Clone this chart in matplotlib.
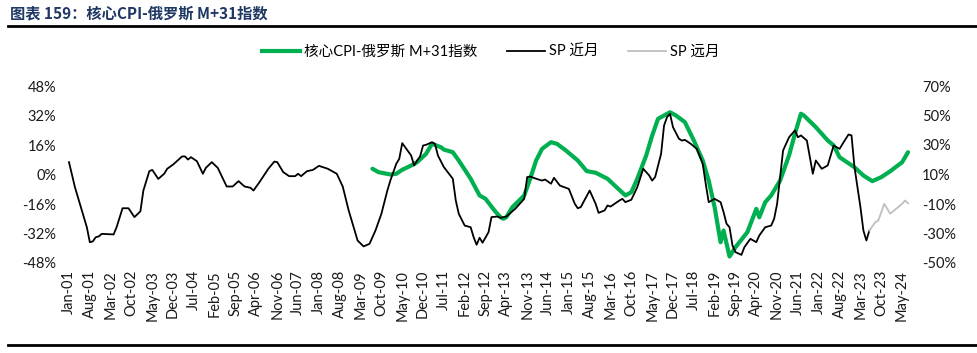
import matplotlib
matplotlib.use("Agg")
import matplotlib.pyplot as plt
from matplotlib.lines import Line2D

plt.rcParams['font.family'] = ['Lato', 'Noto Sans CJK SC', 'DejaVu Sans']

# ---------------- data ----------------
near_dates = ["2001-01","2001-03","2001-07","2001-08","2001-09","2001-10","2001-11","2001-12",
    "2002-04","2002-05","2002-07","2002-09","2002-11","2003-01","2003-02","2003-04","2003-05",
    "2003-07","2003-09","2003-10","2003-12","2004-03","2004-04","2004-05","2004-06","2004-08",
    "2004-10","2004-11","2005-01","2005-03","2005-06","2005-08","2005-10","2005-12","2006-02",
    "2006-03","2006-05","2006-08","2006-10","2006-11","2007-01","2007-03","2007-05","2007-06",
    "2007-07","2007-09","2007-11","2008-01","2008-04","2008-07","2008-09","2008-11","2009-02",
    "2009-04","2009-06","2009-08","2009-10","2009-12","2010-01","2010-03","2010-04","2010-05",
    "2010-06","2010-08","2010-09","2010-10","2010-11","2010-12","2011-01","2011-03","2011-04",
    "2011-05","2011-07","2011-10","2011-11","2011-12","2012-02","2012-04","2012-05","2012-06",
    "2012-07","2012-08","2012-10","2012-11","2013-01","2013-02","2013-04","2013-07","2013-10",
    "2013-11","2013-12","2014-02","2014-04","2014-05","2014-07","2014-08","2014-10","2015-01",
    "2015-03","2015-04","2015-05","2015-08","2015-10","2015-11","2016-01","2016-02","2016-03",
    "2016-06","2016-07","2016-08","2016-10","2016-12","2017-02","2017-04","2017-05","2017-06",
    "2017-08","2017-09","2017-10","2017-11","2017-12","2018-02","2018-03","2018-04","2018-06",
    "2018-08","2018-10","2018-11","2018-12","2019-02","2019-04","2019-05","2019-06","2019-07",
    "2019-08","2019-09","2019-11","2019-12","2020-02","2020-04","2020-05","2020-07","2020-09",
    "2020-10","2020-11","2020-12","2021-01","2021-03","2021-05","2021-06","2021-07","2021-09",
    "2021-10","2021-11","2021-12","2022-02","2022-04","2022-05","2022-06","2022-08","2022-09",
    "2022-11","2022-12","2023-01","2023-03","2023-04","2023-05","2023-06"]
near_values = [6.7,-6.9,-28.6,-36.7,-36.3,-34.0,-33.6,-32.2,
    -32.5,-28.6,-18.3,-18.3,-23.1,-20.0,-8.7,1.8,2.5,
    -2.4,0.4,3.1,5.4,9.8,9.8,8.1,9.4,7.2,
    0.4,3.6,6.7,3.6,-6.5,-6.5,-3.6,-6.5,-7.2,
    -8.7,-4.2,3.1,7.0,6.7,1.3,-0.9,-0.9,0.4,
    -0.9,1.8,2.5,4.7,3.1,0.4,-6.5,-19.5,-35.8,
    -39.0,-37.6,-30.4,-21.3,-8.7,-3.3,5.8,8.5,17.0,
    14.8,10.3,4.9,7.6,9.8,15.7,16.1,17.5,16.6,
    10.3,4.0,-2.3,-14.1,-21.3,-27.7,-28.6,-34.0,-38.1,
    -34.3,-37.0,-31.3,-23.1,-22.8,-23.5,-22.8,-18.6,-13.2,
    -1.4,-1.1,-2.3,-3.3,-2.7,-5.0,-1.8,-6.0,-7.8,
    -15.9,-18.3,-17.7,-8.7,-15.9,-20.8,-19.5,-16.8,-17.4,
    -14.1,-13.2,-15.0,-13.7,-6.9,3.1,-0.5,-3.3,-1.4,
    11.2,26.6,31.1,32.9,25.7,19.4,18.4,18.8,16.6,
    13.9,5.8,-5.0,-15.0,-13.2,-15.0,-20.4,-26.7,-28.6,
    -38.5,-42.1,-43.6,-39.4,-34.9,-36.7,-33.1,-28.6,-27.7,
    -24.0,-15.9,-1.4,13.0,20.2,23.9,20.2,21.2,18.4,
    9.4,0.4,7.6,3.1,4.9,10.3,15.7,13.9,16.6,
    21.7,21.2,4.0,-17.7,-30.4,-35.8,-30.4]

far_dates = ["2023-06","2023-08","2023-09","2023-11","2024-01","2024-03","2024-05","2024-06","2024-07"]
far_values = [-30.4,-25.9,-25.0,-15.9,-21.3,-18.6,-15.9,-14.1,-15.6]

cpi_dates = ["2009-07","2009-09","2010-01","2010-03","2010-05","2010-08","2010-10","2011-01",
    "2011-03","2011-06","2011-07","2011-10","2011-12","2012-04","2012-07","2012-09","2012-12",
    "2013-02","2013-03","2013-04","2013-06","2013-10","2013-12","2014-02","2014-04","2014-07",
    "2014-09","2014-12","2015-04","2015-07","2015-10","2016-02","2016-05","2016-08","2016-10",
    "2016-12","2017-03","2017-05","2017-07","2017-11","2018-01","2018-04","2018-07","2018-10",
    "2018-12","2019-02","2019-04","2019-05","2019-07","2019-09","2020-01","2020-04","2020-05",
    "2020-07","2020-09","2020-12","2021-03","2021-05","2021-07","2021-08","2021-12","2022-04",
    "2022-06","2022-08","2023-01","2023-04","2023-07","2023-10","2024-01","2024-05","2024-07"]
cpi_values = [13.9,11.6,10.0,10.5,13.2,16.1,18.3,24.0,
    30.8,28.5,26.9,25.1,19.5,7.1,-4.2,-6.5,-14.4,
    -18.9,-20.0,-18.9,-12.2,-4.2,7.1,19.5,27.4,31.9,
    30.8,26.3,19.5,12.3,11.2,7.1,1.4,-4.2,-2.0,
    7.1,22.9,36.4,47.8,52.2,50.0,45.5,33.1,19.5,
    5.9,-12.2,-35.9,-28.0,-45.6,-39.3,-29.1,-13.3,-19.0,
    -8.8,-4.2,5.9,22.9,37.6,51.2,50.0,42.1,33.1,
    29.7,21.7,14.9,9.3,5.5,8.2,12.2,18.3,25.1]

tick_labels = ["Jan-01","Aug-01","Mar-02","Oct-02","May-03","Dec-03","Jul-04","Feb-05","Sep-05",
    "Apr-06","Nov-06","Jun-07","Jan-08","Aug-08","Mar-09","Oct-09","May-10","Dec-10","Jul-11",
    "Feb-12","Sep-12","Apr-13","Nov-13","Jun-14","Jan-15","Aug-15","Mar-16","Oct-16","May-17",
    "Dec-17","Jul-18","Feb-19","Sep-19","Apr-20","Nov-20","Jun-21","Jan-22","Aug-22","Mar-23",
    "Oct-23","May-24"]
left_ticks = [-48, -32, -16, 0, 16, 32, 48]
right_ticks = [-50, -30, -10, 10, 30, 50, 70]

series_names = ["核心CPI-俄罗斯 M+31指数", "SP 近月", "SP 远月"]
title_text = "图表 159：核心CPI-俄罗斯 M+31指数"

# ---------------- helpers ----------------
MON = {"Jan":1,"Feb":2,"Mar":3,"Apr":4,"May":5,"Jun":6,"Jul":7,"Aug":8,"Sep":9,"Oct":10,"Nov":11,"Dec":12}
def idx(d):
    y, m = d.split("-")
    return (int(y) - 2001) * 12 + int(m) - 1
def lab_idx(s):
    mo, yy = s.split("-")
    return (int(yy) - 1) * 12 + MON[mo] - 1

# ---------------- figure ----------------
W, H = 978, 353
fig = plt.figure(figsize=(W/100, H/100), dpi=100)
ax = fig.add_axes([67.5/W, 90/H, 845/W, 177/H])
ax2 = ax.twinx()

ax.plot([idx(d) for d in near_dates], near_values, color="black", lw=1.3, zorder=3)
ax.plot([idx(d) for d in far_dates], far_values, color="#BFBFBF", lw=1.3, zorder=3)
ax2.plot([idx(d) for d in cpi_dates], cpi_values, color="#00B050", lw=3.0,
         solid_joinstyle="round", solid_capstyle="round", zorder=2)

ax.set_zorder(ax2.get_zorder() + 1)
ax.patch.set_visible(False)

ax.set_ylim(-48, 48)
ax2.set_ylim(-50, 70)
ax.set_yticks(left_ticks)
ax.set_yticklabels([f"{t}%" for t in left_ticks])
ax2.set_yticks(right_ticks)
ax2.set_yticklabels([f"{t}%" for t in right_ticks])
ax.set_xticks([lab_idx(s) for s in tick_labels])
ax.set_xticklabels(tick_labels, rotation=90)
for a in (ax, ax2):
    a.set_xlim(-0.5, 283.5)
    for s in a.spines.values():
        s.set_visible(False)
ax.tick_params(axis="both", length=0, labelsize=10.5, colors="#1a1a1a")
ax.tick_params(axis="x", pad=5)
ax.tick_params(axis="y", pad=8)
ax2.tick_params(axis="both", length=0, labelsize=10.5, colors="#1a1a1a", pad=7)

handles = [Line2D([], [], color="#00B050", lw=3.0),
           Line2D([], [], color="black", lw=1.3),
           Line2D([], [], color="#BFBFBF", lw=1.3)]
fig.legend(handles, series_names, loc="center", bbox_to_anchor=(491/W, 1 - 52/H),
           ncol=3, frameon=False, fontsize=10.5, handlelength=2.6, handletextpad=0.3,
           columnspacing=2.0)

fig.text(10/W, 1 - 13/H, title_text, fontsize=11, fontweight="bold", color="#1F3864",
         va="center", ha="left", family=["Noto Sans CJK SC", "DejaVu Sans"])
fig.add_artist(Line2D([8/W, 1.0], [1 - 26/H, 1 - 26/H], color="black", lw=2))
fig.add_artist(Line2D([8/W, 1.0], [1 - 345/H, 1 - 345/H], color="black", lw=2))

fig.savefig("out.png", dpi=100)
